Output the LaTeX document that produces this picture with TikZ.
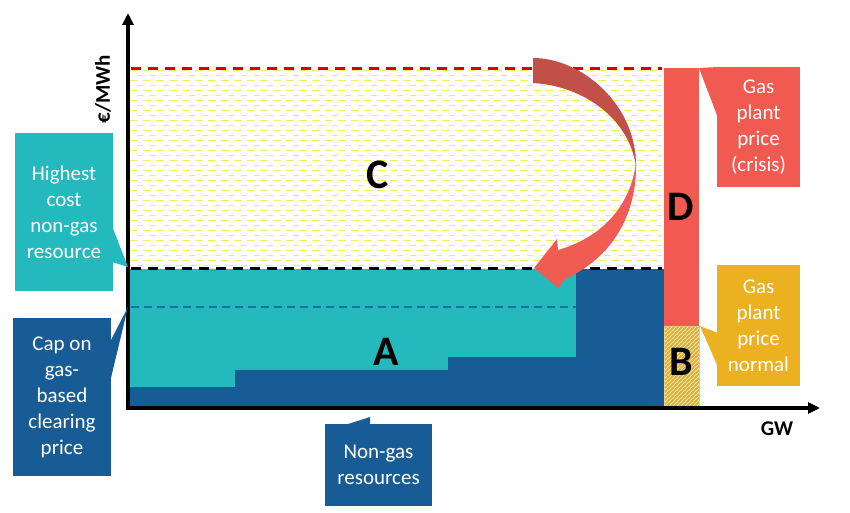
\documentclass[tikz,border=0pt]{standalone}
\usepackage{fontspec}
\setmainfont{Carlito}
\usetikzlibrary{arrows.meta,patterns}
\definecolor{cteal}{RGB}{35,185,189}
\definecolor{cblue}{RGB}{24,92,150}
\definecolor{cred}{RGB}{240,90,80}
\definecolor{corange}{RGB}{236,177,32}
\definecolor{arrdark}{RGB}{192,80,72}
\definecolor{arrlight}{RGB}{240,92,82}
\definecolor{cyell}{RGB}{240,238,100}
\definecolor{bfill}{RGB}{250,234,180}
\definecolor{bstripe}{RGB}{228,172,40}
\pgfdeclarepatternformonly{ydashes}{\pgfqpoint{-1pt}{-1pt}}{\pgfqpoint{14pt}{11pt}}{\pgfqpoint{13pt}{10pt}}{%
  \pgfsetlinewidth{1.8pt}%
  \pgfpathmoveto{\pgfqpoint{0pt}{2.5pt}}\pgfpathlineto{\pgfqpoint{7.5pt}{2.5pt}}%
  \pgfpathmoveto{\pgfqpoint{6.5pt}{7.5pt}}\pgfpathlineto{\pgfqpoint{13pt}{7.5pt}}%
  \pgfusepath{stroke}}
\pgfdeclarepatternformonly{bstripes}{\pgfqpoint{-1pt}{-1pt}}{\pgfqpoint{5pt}{5pt}}{\pgfqpoint{4pt}{4pt}}{%
  \pgfsetlinewidth{1.5pt}%
  \pgfpathmoveto{\pgfqpoint{-1pt}{-1pt}}\pgfpathlineto{\pgfqpoint{5pt}{5pt}}%
  \pgfusepath{stroke}}
\tikzset{
  callout/.style={inner sep=0pt, text=white, align=center, font=\fontsize{21}{26}\selectfont},
  bigletter/.style={inner sep=0pt, font=\fontsize{42}{42}\selectfont\bfseries},
  axlabel/.style={inner sep=0pt, font=\fontsize{21}{21}\selectfont\bfseries},
  axisline/.style={line width=3.5pt, -{Triangle[width=11pt,length=12pt]}},
  dashline/.style={line width=3pt, dash pattern=on 10pt off 7pt}
}
\begin{document}
\begin{tikzpicture}[x=1pt,y=-1pt]
\useasboundingbox (0,0) rectangle (850,513);
% region C
\fill[white] (130,69) rectangle (662,268);
\fill[pattern=ydashes, pattern color=cyell] (130,71) rectangle (662,266);
% region A (teal) and non-gas steps
\fill[cteal] (130,269) rectangle (576,408);
\fill[cblue] (130,408) -- (130,387) -- (235,387) -- (235,370) -- (448,370) -- (448,357)
  -- (576,357) -- (576,269) -- (664,269) -- (664,408) -- cycle;
% dashed lines
\draw[dashline, red!85!black] (131,69) -- (662,69);
\draw[dashline, black] (131,268) -- (662,268);
\draw[cblue!80!cteal, line width=1.5pt, dash pattern=on 8pt off 5pt] (131,307) -- (576,307);
% D bar and B box
\fill[cred] (664,68) rectangle (699,326);
\fill[bfill] (664,326) rectangle (699,408);
\fill[pattern=bstripes, pattern color=bstripe] (664,326) rectangle (699,408);
\draw[bstripe!60!white, line width=0.6pt] (664,326) rectangle (699,408);
% curved arrow
\fill[arrdark] (533,58) .. controls (582,58) and (637,105) .. (636,167)
  .. controls (630,120) and (585,86) .. (533,83) -- cycle;
\fill[arrlight] (636,163) .. controls (637,215) and (612,258) .. (565,279)
  -- (558,288) -- (534,268) -- (557,239) -- (558,250)
  .. controls (600,238) and (630,208) .. (636,163) -- cycle;
% axes
\coordinate (O) at (128,408);
\coordinate (ytop) at (128,13);
\coordinate (xend) at (820,408);
\draw[axisline] (128,410) -- (ytop);
\draw[axisline] (126,408) -- (xend);
\node[axlabel, rotate=90] (ylab) at (103,89) {€/MWh};
\node[axlabel] (xlab) at (777,429) {GW};
% letters
\node[bigletter] (lc) at (378,175) {C};
\node[bigletter] (la) at (386,352) {A};
\node[bigletter] (ld) at (681,207) {D};
\node[bigletter] (lb) at (681,362) {B};
% callouts
\node[callout, fill=cteal, minimum width=98pt, minimum height=158pt] (hi) at (64,212) {Highest\\cost\\non-gas\\resource};
\fill[cteal] (112,226) -- (128,267) -- (112,262) -- cycle;
\node[callout, fill=cblue, minimum width=98pt, minimum height=158pt] (cap) at (62,397) {Cap on\\gas-\\based\\clearing\\price};
\fill[cblue] (110,342) -- (128,307) -- (110,382) -- cycle;
\node[callout, fill=cblue, minimum width=107pt, minimum height=82pt] (ng) at (378.5,465) {Non-gas\\resources};
\fill[cblue] (345,425) -- (370,417) -- (370,425) -- cycle;
\node[callout, fill=cred, minimum width=83pt, minimum height=120pt] (cr) at (758.5,127) {Gas\\plant\\price\\(crisis)};
\fill[cred] (699,68) -- (718,67) -- (718,118) -- cycle;
\node[callout, fill=corange, minimum width=83pt, minimum height=121pt] (nm) at (758.5,325.5) {Gas\\plant\\price\\normal};
\fill[corange] (700,326) -- (718,333) -- (718,367) -- cycle;
\end{tikzpicture}
\end{document}
